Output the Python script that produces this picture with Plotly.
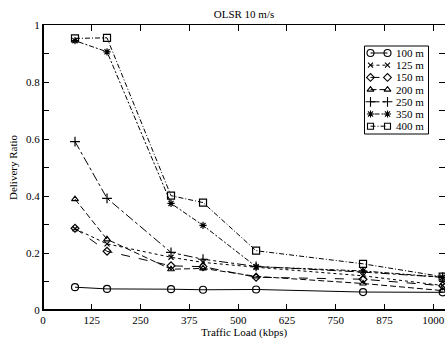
import plotly.graph_objects as go

traffic = [82, 164, 328, 410, 546, 820, 1024]
labels = ["100 m", "125 m", "150 m", "200 m", "250 m", "350 m", "400 m"]
r100 = [0.080, 0.074, 0.073, 0.071, 0.072, 0.063, 0.062]
r125 = [0.285, 0.232, 0.185, 0.167, 0.150, 0.120, 0.086]
r150 = [0.287, 0.206, 0.155, 0.152, 0.115, 0.108, 0.085]
r200 = [0.389, 0.248, 0.143, 0.146, 0.118, 0.093, 0.068]
r250 = [0.591, 0.392, 0.202, 0.178, 0.153, 0.133, 0.115]
r350 = [0.945, 0.906, 0.374, 0.297, 0.152, 0.137, 0.115]
r400 = [0.953, 0.955, 0.401, 0.377, 0.208, 0.162, 0.117]
series = [r100, r125, r150, r200, r250, r350, r400]

x_ticks = [0, 125, 250, 375, 500, 625, 750, 875, 1000]
y_ticks = [0, 0.2, 0.4, 0.6, 0.8, 1]
y_tick_text = ["0", "0.2", "0.4", "0.6", "0.8", "1"]

symbols = ["circle-open", "x-thin-open", "diamond-open", "triangle-up-open",
           "cross-thin-open", "asterisk-open", "square-open"]
dashes = ["solid", "dot", "dash", "6px,3px", "dashdot", "2px,2px,5px,2px", "5px,2px,1px,2px"]
sizes = [7, 5, 6, 6, 7, 6, 7]
leg_sizes = [7, 5, 6, 6, 7, 6, 6]

font = "Liberation Serif, Times New Roman, serif"

fig = go.Figure()
for name, ys, sym, d, s in zip(labels, series, symbols, dashes, sizes):
    fig.add_trace(go.Scatter(
        x=traffic, y=ys, name=name, mode="lines+markers", showlegend=False,
        line=dict(color="black", width=1, dash=d),
        marker=dict(symbol=sym, size=s, color="black", line=dict(color="black", width=1.2)),
    ))

# custom legend drawn on an overlay axis measured in pixel units of the plot area
L, R, T, B = 43, 445, 25, 310
row0, row_step = 53, 12.2
annotations = []
for i, (name, sym, d, s) in enumerate(zip(labels, symbols, dashes, leg_sizes)):
    yy = row0 + i * row_step
    fig.add_trace(go.Scatter(
        x=[370.5, 387.5], y=[yy, yy], mode="lines+markers", showlegend=False,
        xaxis="x2", yaxis="y2", hoverinfo="skip",
        line=dict(color="black", width=1, dash=d),
        marker=dict(symbol=sym, size=s, color="black", line=dict(color="black", width=1.1)),
    ))
    annotations.append(dict(x=394, y=yy, xref="x2", yref="y2", text=name, showarrow=False,
                            xanchor="left", yanchor="middle",
                            font=dict(family=font, size=11, color="black")))

shapes = [
    dict(type="rect", xref="x2", yref="y2", x0=364.5, x1=428.5, y0=46, y1=134,
         line=dict(color="black", width=1), fillcolor="rgba(0,0,0,0)"),
    dict(type="line", xref="paper", yref="paper", x0=0, x1=0, y0=0, y1=1,
         line=dict(color="black", width=2)),
    dict(type="line", xref="paper", yref="paper", x0=0, x1=1, y0=0, y1=0,
         line=dict(color="black", width=2)),
]

fig.update_layout(
    width=445, height=340,
    margin=dict(l=L, r=445 - R, t=T, b=340 - B),
    paper_bgcolor="white", plot_bgcolor="white",
    font=dict(family=font, size=11, color="black"),
    title=dict(text="OLSR 10 m/s", x=0.5, xref="paper", y=1 - 14 / 340, yanchor="middle",
               font=dict(family=font, size=11, color="black")),
    showlegend=False,
    annotations=annotations,
    shapes=shapes,
    xaxis=dict(range=[0, 1030], tickvals=x_ticks, ticktext=[str(v) for v in x_ticks],
               ticks="inside", ticklen=6, tickcolor="black", showgrid=False, zeroline=False,
               showline=True, linecolor="black", linewidth=1, mirror="ticks", automargin=False,
               title=dict(text="Traffic Load (kbps)", standoff=0, font=dict(size=11))),
    yaxis=dict(range=[0, 1], tickvals=y_ticks, ticktext=y_tick_text,
               ticks="inside", ticklen=6, tickcolor="black", showgrid=False, zeroline=False,
               showline=True, linecolor="black", linewidth=1, mirror="ticks", automargin=False,
               minor=dict(dtick=0.1, ticks="inside", ticklen=6, tickcolor="black", showgrid=False),
               title=dict(text="Delivery Ratio", standoff=6, font=dict(size=11))),
    xaxis2=dict(range=[L, R], overlaying="x", visible=False, fixedrange=True),
    yaxis2=dict(range=[B, T], overlaying="y", visible=False, fixedrange=True),
)

fig.write_html("out.html")
